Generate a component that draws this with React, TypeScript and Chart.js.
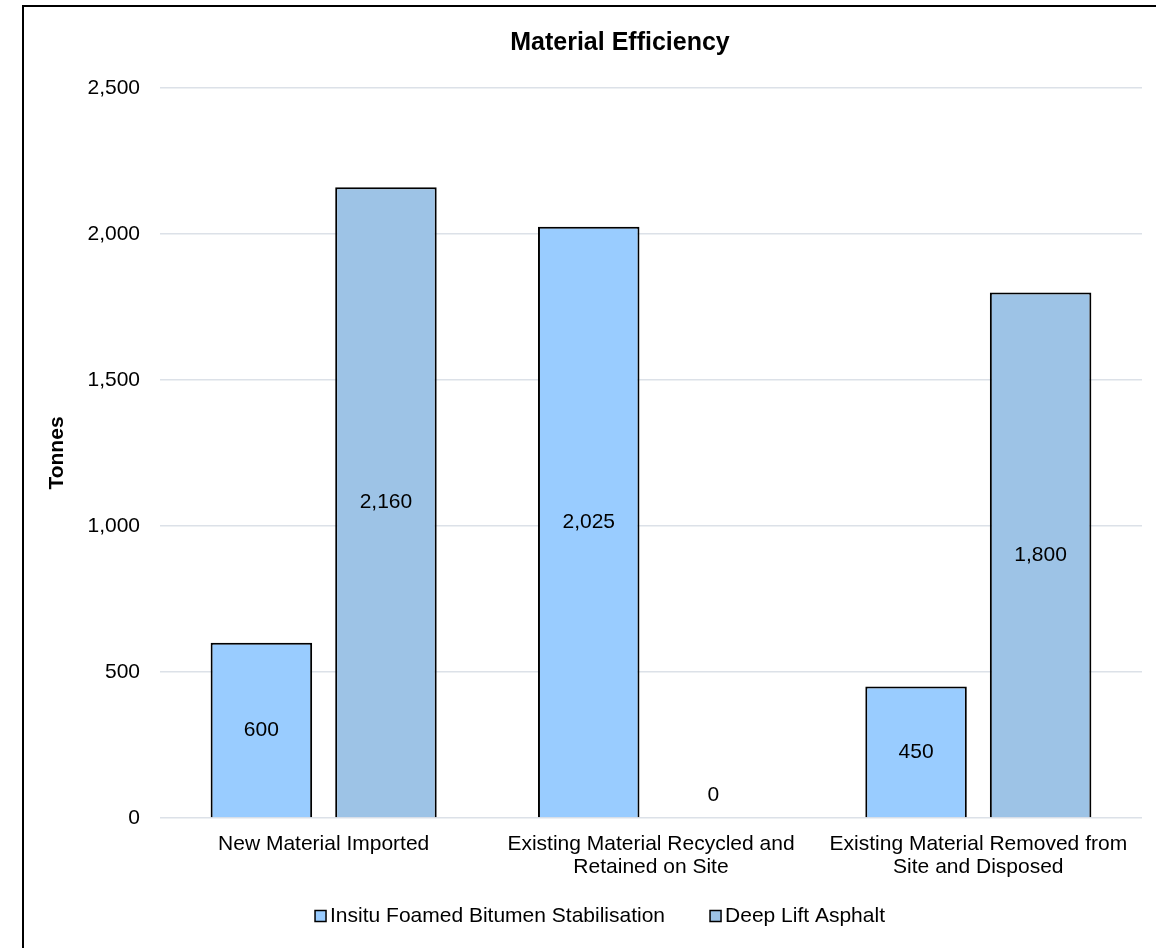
import React, { useEffect, useRef } from "react";
import { Chart, registerables } from "chart.js";

Chart.register(...registerables);

const chartTitle = "Material Efficiency";
const yAxisTitle = "Tonnes";
const categories: string[][] = [
  ["New Material Imported"],
  ["Existing Material Recycled and", "Retained on Site"],
  ["Existing Material Removed from", "Site and Disposed"],
];
const seriesNames = ["Insitu Foamed Bitumen Stabilisation", "Deep Lift Asphalt"];
const insituValues = [600, 2025, 450];
const deepLiftValues = [2160, 0, 1800];
const seriesColors = ["#99CCFF", "#9DC3E6"];
const yMin = 0;
const yMax = 2500;
const yStep = 500;

const FONT = '"Liberation Sans", Arial, Helvetica, sans-serif';
const fmt = (v: number) => v.toLocaleString("en-US");

const valueLabelPlugin = {
  id: "valueLabels",
  afterDatasetsDraw(chart: any) {
    const ctx = chart.ctx;
    ctx.save();
    ctx.font = `21px ${FONT}`;
    ctx.fillStyle = "#000";
    ctx.textAlign = "center";
    ctx.textBaseline = "middle";
    chart.data.datasets.forEach((ds: any, di: number) => {
      const meta = chart.getDatasetMeta(di);
      meta.data.forEach((bar: any, i: number) => {
        const v = ds.data[i] as number;
        const p = bar.getProps(["x", "y", "base"], true);
        const ty = v === 0 ? p.base - 23 : (p.y + p.base) / 2;
        ctx.fillText(fmt(v), p.x, ty);
      });
    });
    ctx.restore();
  },
};

const titleLegendPlugin = {
  id: "titleLegend",
  afterDraw(chart: any) {
    const ctx = chart.ctx;
    ctx.save();
    // title
    ctx.font = `bold 25px ${FONT}`;
    ctx.fillStyle = "#000";
    ctx.textAlign = "center";
    ctx.textBaseline = "middle";
    ctx.fillText(chartTitle, 596, 36);
    // legend
    ctx.font = `21px ${FONT}`;
    const box = 11;
    const gapBoxText = 4;
    const gapItems = 45;
    const items = chart.data.datasets.map((ds: any) => ({
      text: ds.label as string,
      color: ds.backgroundColor as string,
      w: box + gapBoxText + ctx.measureText(ds.label).width,
    }));
    const total =
      items.reduce((s: number, it: any) => s + it.w, 0) + gapItems * (items.length - 1);
    let x = 576 - total / 2;
    const cy = 909;
    ctx.textAlign = "left";
    items.forEach((it: any) => {
      ctx.fillStyle = it.color;
      ctx.fillRect(x, cy - box / 2, box, box);
      ctx.lineWidth = 1.5;
      ctx.strokeStyle = "#000";
      ctx.strokeRect(x, cy - box / 2, box, box);
      ctx.fillStyle = "#000";
      ctx.fillText(it.text, x + box + gapBoxText, cy);
      x += it.w + gapItems;
    });
    ctx.restore();
  },
};

export default function App() {
  const canvasRef = useRef<HTMLCanvasElement | null>(null);

  useEffect(() => {
    if (!canvasRef.current) return;
    const chart = new Chart(canvasRef.current, {
      type: "bar",
      data: {
        labels: categories,
        datasets: [
          {
            label: seriesNames[0],
            data: insituValues,
            backgroundColor: seriesColors[0],
            borderColor: "#000",
            borderWidth: 2,
            categoryPercentage: 0.761,
            barPercentage: 0.815,
          },
          {
            label: seriesNames[1],
            data: deepLiftValues,
            backgroundColor: seriesColors[1],
            borderColor: "#000",
            borderWidth: 2,
            categoryPercentage: 0.761,
            barPercentage: 0.815,
          },
        ],
      },
      options: {
        animation: false,
        responsive: false,
        maintainAspectRatio: false,
        devicePixelRatio: 1,
        layout: { padding: { top: 81, right: 14, bottom: 50, left: 0 } },
        plugins: {
          legend: { display: false },
          title: { display: false },
          tooltip: { enabled: false },
        },
        scales: {
          x: {
            grid: { display: false, drawTicks: false },
            border: { display: false },
            ticks: {
              autoSkip: false,
              maxRotation: 0,
              minRotation: 0,
              padding: 15,
              color: "#000",
              font: { family: FONT, size: 21, lineHeight: 1.1 },
            },
            afterFit: (scale: any) => {
              scale.height = 80;
            },
          },
          y: {
            min: yMin,
            max: yMax,
            border: { display: false },
            grid: { color: "#DCE1E8", lineWidth: 1.5, drawTicks: false },
            ticks: {
              stepSize: yStep,
              padding: 20,
              color: "#000",
              font: { family: FONT, size: 21 },
              callback: (v: any) => fmt(Number(v)),
            },
            title: {
              display: true,
              text: yAxisTitle,
              color: "#000",
              font: { family: FONT, size: 21, weight: "bold" },
              padding: { top: 21, bottom: 0 },
            },
            afterFit: (scale: any) => {
              scale.width = 136;
            },
          },
        },
      },
      plugins: [valueLabelPlugin, titleLegendPlugin],
    });
    return () => chart.destroy();
  }, []);

  return (
    <div
      style={{
        position: "fixed",
        left: 0,
        top: 0,
        width: 1156,
        height: 948,
        overflow: "hidden",
        background: "#fff",
      }}
    >
      <div
        style={{
          position: "absolute",
          left: 22,
          top: 5,
          width: 1200,
          height: 1000,
          border: "2px solid #000",
          boxSizing: "border-box",
        }}
      />
      <canvas
        ref={canvasRef}
        width={1132}
        height={941}
        style={{ position: "absolute", left: 24, top: 7, width: 1132, height: 941 }}
      />
    </div>
  );
}
